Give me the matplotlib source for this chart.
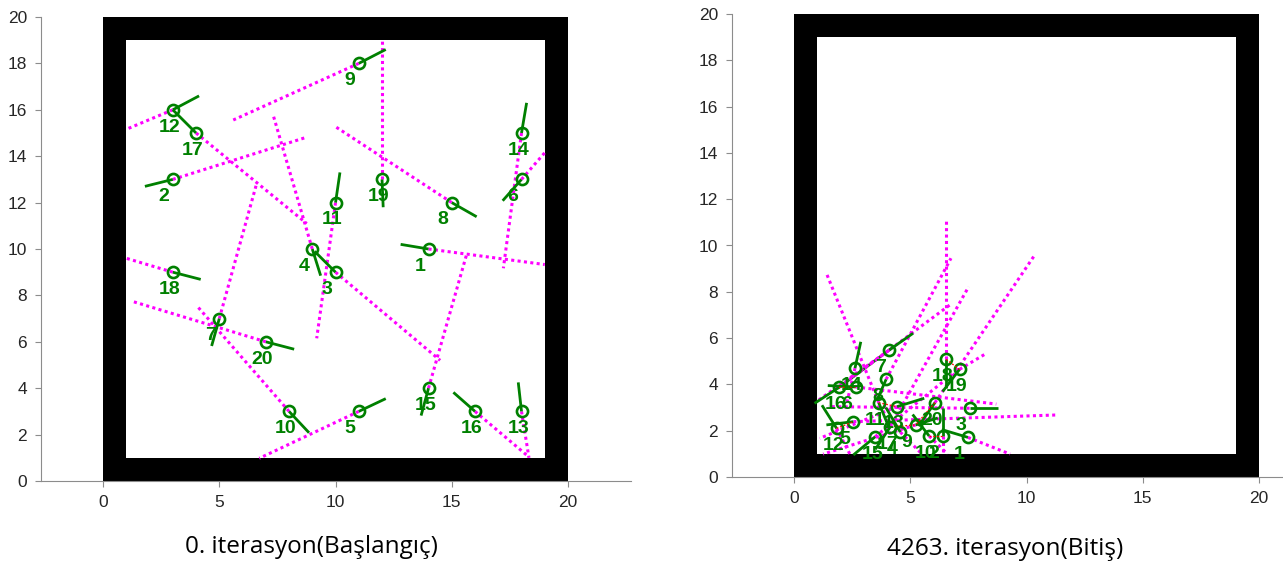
import matplotlib
matplotlib.use("Agg")
import matplotlib.pyplot as plt
from matplotlib.patches import Rectangle

# --- veri: baslangic (0. iterasyon) ---
sol_x = [14, 3, 10, 9, 11, 18, 5, 15, 11, 8, 10, 3, 18, 18, 14, 16, 4, 3, 12, 7]
sol_y = [10, 13, 9, 10, 3, 13, 7, 12, 18, 3, 12, 16, 3, 15, 4, 3, 15, 9, 13, 6]
# yon cizgisi uclari (yesil)
sol_hx = [12.8, 1.8, 9.1, 9.36, 12.16, 17.19, 4.67, 16.07, 12.16, 8.86,
          10.19, 4.13, 17.86, 18.22, 13.68, 15.07, 3.0, 4.2, 12.05, 8.22]
sol_hy = [10.2, 12.7, 9.9, 8.85, 3.55, 12.08, 5.82, 11.39, 18.6, 2.08,
          13.3, 16.6, 4.25, 16.3, 2.82, 3.82, 16.0, 8.69, 11.8, 5.68]
# sensor isini uclari (mor noktali)
sol_rx = [19.0, 8.7, 14.5, 7.33, 6.72, 19.0, 6.6, 10.0, 5.6, 4.07,
          9.19, 1.0, 18.32, 17.22, 15.64, 18.3, 8.76, 1.0, 12.0, 1.3]
sol_ry = [9.33, 14.8, 5.2, 15.73, 0.98, 14.15, 12.8, 15.27, 15.56, 7.51,
          6.15, 15.16, 1.0, 9.17, 9.77, 1.05, 11.1, 9.6, 19.0, 7.73]

# --- veri: bitis (4263. iterasyon) ---
sag_x = [7.48, 6.39, 7.55, 4.57, 2.55, 2.65, 4.10, 3.96, 5.23, 5.81,
         3.64, 1.83, 4.43, 2.62, 3.49, 1.93, 4.14, 6.54, 7.12, 6.06]
sag_y = [1.71, 1.77, 2.97, 1.94, 2.39, 3.89, 5.49, 4.22, 2.25, 1.77,
         3.21, 2.10, 3.04, 4.70, 1.74, 3.87, 2.17, 5.08, 4.65, 3.21]
sag_hx = [6.35, 6.39, 8.78, 3.95, 1.39, 1.45, 5.12, 3.57, 6.18, 5.10,
          4.10, 1.20, 5.60, 2.87, 2.55, 0.88, 3.50, 6.54, 6.39, 5.35]
sag_hy = [2.05, 2.99, 2.97, 3.00, 2.25, 3.95, 6.21, 3.33, 2.55, 2.70,
          2.10, 3.10, 3.40, 5.84, 0.95, 3.18, 1.20, 3.85, 3.69, 2.20]
sag_rx = [9.29, 6.39, 1.47, 5.50, 11.32, 8.70, 0.95, 6.75, 1.25, 6.60,
          1.42, 2.40, 1.10, 2.20, 7.00, 6.75, 7.51, 6.54, 8.27, 10.38]
sag_ry = [0.99, 1.00, 3.04, 0.99, 2.68, 3.15, 3.25, 9.45, 0.99, 0.99,
          8.73, 0.99, 1.67, 2.90, 4.60, 7.47, 8.22, 11.07, 5.34, 9.63]
# yakin robot ciftleri (kirmizi noktali)
sag_ciftler = [(16, 6), (11, 13), (12, 5), (17, 9), (10, 2), (18, 19), (20, 9)]
# 16 ile 7 arasindaki yesil cizgi
sag_ek = [(16, 7)]

etiketler = [str(i) for i in range(1, 21)]
basliklar = ["0. iterasyon(Başlangıç)", "4263. iterasyon(Bitiş)"]

YESIL = "#008000"
MOR = "#FF00FF"


def panel_ciz(ax, xs, ys, hx, hy, rx, ry, ciftler=(), ek=()):
    # duvarlar
    ax.add_patch(Rectangle((0, 0), 20, 20, facecolor="black", edgecolor="none", zorder=1))
    ax.add_patch(Rectangle((1, 1), 18, 18, facecolor="white", edgecolor="none", zorder=1))

    for a, b in ek:
        ax.plot([xs[a - 1], xs[b - 1]], [ys[a - 1], ys[b - 1]], color=YESIL,
                lw=2, zorder=2)
    for i in range(len(xs)):
        ax.plot([xs[i], rx[i]], [ys[i], ry[i]], color=MOR, lw=2.2,
                linestyle=(0, (1, 1.1)), dash_capstyle="butt", zorder=2)
    for a, b in ciftler:
        ax.plot([xs[a - 1], xs[b - 1]], [ys[a - 1], ys[b - 1]], color="red",
                lw=0.9, linestyle=(0, (1.5, 1.5)), zorder=4)
    for i in range(len(xs)):
        ax.plot([xs[i], hx[i]], [ys[i], hy[i]], color=YESIL, lw=2,
                solid_capstyle="butt", zorder=3)
    ax.plot(xs, ys, "o", ms=8, mfc="none", mec=YESIL, mew=1.9, zorder=3)
    for i in range(len(xs)):
        ax.text(xs[i] - 0.6, ys[i] - 0.75, etiketler[i], color=YESIL,
                fontsize=14, fontweight="bold", ha="left", va="center",
                family="Liberation Sans", zorder=5)

    ax.set_xlim(-2.67, 22.71)
    ax.set_ylim(0, 20)
    ax.set_xticks([0, 5, 10, 15, 20])
    ax.set_yticks(range(0, 21, 2))
    for s in ["top", "right"]:
        ax.spines[s].set_visible(False)
    for s in ["left", "bottom"]:
        ax.spines[s].set_color("#8c8c8c")
        ax.spines[s].set_linewidth(0.8)
    ax.tick_params(direction="out", length=4, width=0.8, color="#8c8c8c",
                   labelcolor="#262626", labelsize=12.5, pad=6)
    for t in ax.get_xticklabels() + ax.get_yticklabels():
        t.set_family("Liberation Sans")


fig = plt.figure(figsize=(12.83, 5.65), dpi=100)
ax1 = fig.add_axes([41 / 1283, 84 / 565, 590 / 1283, 464 / 565])
ax2 = fig.add_axes([732 / 1283, 88 / 565, 590 / 1283, 463 / 565])

panel_ciz(ax1, sol_x, sol_y, sol_hx, sol_hy, sol_rx, sol_ry)
panel_ciz(ax2, sag_x, sag_y, sag_hx, sag_hy, sag_rx, sag_ry, sag_ciftler, sag_ek)

fig.text(311 / 1283, 1 - 547 / 565, basliklar[0], ha="center", va="center",
         fontsize=17.5, family="Open Sans", color="black")
fig.text(1005 / 1283, 1 - 549 / 565, basliklar[1], ha="center", va="center",
         fontsize=17.5, family="Open Sans", color="black")

fig.savefig("out.png", dpi=100)
